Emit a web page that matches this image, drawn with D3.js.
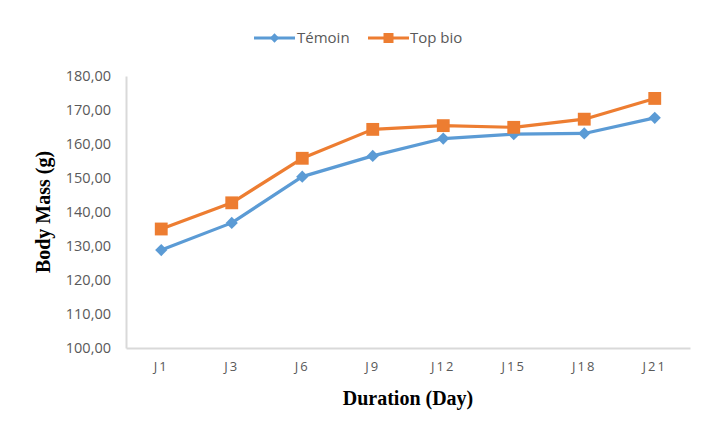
<!DOCTYPE html>
<html>
<head>
<meta charset="utf-8">
<script src="https://cdn.jsdelivr.net/npm/d3@7"></script>
<style>
  html, body { margin: 0; padding: 0; background: #fff; }
  svg { display: block; }
</style>
</head>
<body>
<svg id="chart" width="704" height="428"></svg>
<script>
// Categories (days) and body mass per group
const days = ["J1", "J3", "J6", "J9", "J12", "J15", "J18", "J21"];
const temoin = [128.8, 136.8, 150.4, 156.5, 161.6, 162.9, 163.1, 167.7];
const topBio = [135.0, 142.7, 155.8, 164.3, 165.4, 164.9, 167.3, 173.4];
const yTicks = [100, 110, 120, 130, 140, 150, 160, 170, 180];
const seriesNames = ["Témoin", "Top bio"];

const svg = d3.select("#chart");
const plot = { left: 126, right: 690, top: 76, bottom: 348 };

const x = d3.scaleBand().domain(days).range([plot.left, plot.right]);
const y = d3.scaleLinear().domain([100, 180]).range([plot.bottom, plot.top]);
const fmt = v => d3.format(".2f")(v).replace(".", ",");

const labelColor = "#595959";
const axisColor = "#d9d9d9";

// Y axis: labels only, with the light axis line
const yAxis = svg.append("g")
  .attr("transform", `translate(${plot.left},0)`)
  .call(d3.axisLeft(y).tickValues(yTicks).tickFormat(fmt).tickSize(0).tickPadding(15));
yAxis.select(".domain").attr("stroke", axisColor).attr("stroke-width", 2);
yAxis.selectAll("text")
  .attr("fill", labelColor)
  .style("font-family", "'Open Sans', sans-serif")
  .style("font-size", "14.5px");

// X axis
const xAxis = svg.append("g")
  .attr("transform", `translate(0,${plot.bottom})`)
  .call(d3.axisBottom(x).tickSize(0).tickPadding(14));
xAxis.select(".domain").attr("stroke", axisColor).attr("stroke-width", 2);
xAxis.selectAll("text")
  .attr("fill", labelColor)
  .style("font-family", "'Open Sans', sans-serif")
  .style("font-size", "13px")
  .style("letter-spacing", "2px");

// Axis titles
svg.append("text")
  .attr("x", (plot.left + plot.right) / 2)
  .attr("y", 405)
  .attr("text-anchor", "middle")
  .style("font-family", "'Liberation Serif', 'Times New Roman', serif")
  .style("font-weight", "bold")
  .style("font-size", "20px")
  .attr("fill", "#000")
  .text("Duration (Day)");

svg.append("text")
  .attr("transform", `translate(50,${(plot.top + plot.bottom) / 2}) rotate(-90)`)
  .attr("text-anchor", "middle")
  .style("font-family", "'Liberation Serif', 'Times New Roman', serif")
  .style("font-weight", "bold")
  .style("font-size", "20px")
  .attr("fill", "#000")
  .text("Body Mass (g)");

const cx = d => x(d) + x.bandwidth() / 2;
const line = d3.line().x(d => cx(d.day)).y(d => y(d.v));

const series = [
  { name: seriesNames[0], values: temoin, color: "#5B9BD5", shape: d3.symbolDiamond2, size: 95, legendSize: 55 },
  { name: seriesNames[1], values: topBio, color: "#ED7D31", shape: d3.symbolSquare, size: 165, legendSize: 100 }
];

series.forEach(s => {
  const pts = days.map((day, i) => ({ day, v: s.values[i] }));
  svg.append("path")
    .datum(pts)
    .attr("fill", "none")
    .attr("stroke", s.color)
    .attr("stroke-width", 3.2)
    .attr("stroke-linejoin", "round")
    .attr("d", line);
  svg.append("g").selectAll("path")
    .data(pts)
    .join("path")
    .attr("transform", d => `translate(${cx(d.day)},${y(d.v)})`)
    .attr("d", d3.symbol().type(s.shape).size(s.size))
    .attr("fill", s.color);
});

// Legend
const legendPos = [
  { x0: 254, textX: 297 },
  { x0: 368, textX: 410 }
];
series.forEach((s, i) => {
  const g = svg.append("g").attr("transform", `translate(${legendPos[i].x0},38)`);
  g.append("line").attr("x1", 0).attr("x2", 41).attr("y1", 0).attr("y2", 0)
    .attr("stroke", s.color).attr("stroke-width", 3.2);
  g.append("path")
    .attr("transform", "translate(20.5,0)")
    .attr("d", d3.symbol().type(s.shape).size(s.legendSize))
    .attr("fill", s.color);
  svg.append("text")
    .attr("x", legendPos[i].textX)
    .attr("y", 38)
    .attr("dy", "0.35em")
    .attr("fill", labelColor)
    .style("font-family", "'Open Sans', sans-serif")
    .style("font-size", "15px")
    .text(s.name);
});
</script>
</body>
</html>
